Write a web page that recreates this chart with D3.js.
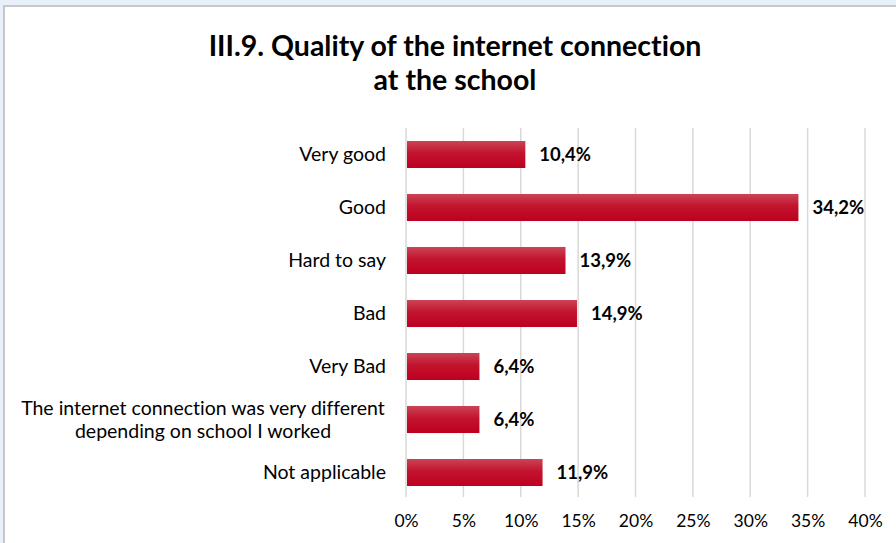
<!DOCTYPE html>
<html>
<head>
<meta charset="utf-8">
<script src="https://cdn.jsdelivr.net/npm/d3@7"></script>
<style>
  html, body { margin: 0; padding: 0; background: #e8f0f9; }
  svg { display: block; }
  text { font-variant-ligatures: none; font-feature-settings: "liga" 0; }
</style>
</head>
<body>
<svg id="chart" width="896" height="543"></svg>
<script>
// Survey answers and their shares (%)
const categories = [
  "Very good",
  "Good",
  "Hard to say",
  "Bad",
  "Very Bad",
  "The internet connection was very different|depending on school I worked",
  "Not applicable"
];
const values = [10.4, 34.2, 13.9, 14.9, 6.4, 6.4, 11.9];
const tickValues = [0, 5, 10, 15, 20, 25, 30, 35, 40];
const titleLines = ["III.9. Quality of the internet connection", "at the school"];

const svg = d3.select("#chart");
const W = 896, H = 543;
const font = "Lato, 'Open Sans', sans-serif";

// Chart panel with a thin grey frame
svg.append("rect").attr("x", 4).attr("y", 6).attr("width", W).attr("height", H)
  .attr("fill", "#ffffff").attr("stroke", "#c8c8c8").attr("stroke-width", 2);

// Vertical gradient for the bars
const defs = svg.append("defs");
const grad = defs.append("linearGradient").attr("id", "barGrad")
  .attr("x1", 0).attr("y1", 0).attr("x2", 0).attr("y2", 1);
grad.append("stop").attr("offset", "0%").attr("stop-color", "#cb4455");
grad.append("stop").attr("offset", "45%").attr("stop-color", "#c2142e");
grad.append("stop").attr("offset", "100%").attr("stop-color", "#be0020");

const margin = { left: 406, top: 128 };
const x = d3.scaleLinear().domain([0, 40]).range([margin.left, 865]);
const y = d3.scaleBand().domain(categories).range([margin.top, 499]).paddingInner(0.49).paddingOuter(0.245);

// Title
const title = svg.append("text").attr("text-anchor", "middle")
  .attr("font-family", font).attr("font-weight", "bold").attr("font-size", 28.5).attr("fill", "#000");
titleLines.forEach((t, i) => {
  title.append("tspan").attr("x", 455).attr("y", 56 + i * 34).text(t);
});

// Gridlines
svg.append("g").selectAll("line").data(tickValues).join("line")
  .attr("x1", d => x(d)).attr("x2", d => x(d))
  .attr("y1", margin.top).attr("y2", 497)
  .attr("stroke", "#d9d9d9").attr("stroke-width", 1.5);

// Bars
svg.append("g").selectAll("rect").data(values).join("rect")
  .attr("x", x(0) + 1)
  .attr("y", (d, i) => y(categories[i]))
  .attr("width", d => x(d) - x(0) - 1)
  .attr("height", y.bandwidth())
  .attr("fill", "url(#barGrad)");

// Value labels
svg.append("g").selectAll("text").data(values).join("text")
  .attr("x", d => x(d) + 14)
  .attr("y", (d, i) => y(categories[i]) + y.bandwidth() / 2)
  .attr("dy", "0.35em")
  .attr("font-family", font).attr("font-weight", "bold").attr("font-size", 18.5)
  .attr("fill", "#000")
  .text(d => d.toFixed(1).replace(".", ",") + "%");

// Category labels
const yAxis = d3.axisLeft(y).tickSize(0).tickPadding(0).tickFormat("");
const yg = svg.append("g").attr("transform", `translate(${margin.left},0)`).call(yAxis);
yg.select(".domain").remove();
yg.selectAll(".tick").each(function(d) {
  const parts = d.split("|");
  const multi = parts.length > 1;
  const t = d3.select(this).append("text")
    .attr("text-anchor", multi ? "middle" : "end")
    .attr("font-family", font).attr("font-size", 19.5).attr("fill", "#000");
  parts.forEach((p, i) => {
    t.append("tspan").attr("x", multi ? -203 : -20)
      .attr("dy", i === 0 ? ((0.35 - (parts.length - 1) * 0.6) + "em") : "1.2em")
      .text(p);
  });
});

// X axis tick labels
const xAxis = d3.axisBottom(x).tickValues(tickValues).tickSize(0).tickPadding(0)
  .tickFormat(d => d + "%");
const xg = svg.append("g").attr("transform", "translate(0,515)").call(xAxis);
xg.select(".domain").remove();
xg.selectAll("text").attr("font-family", font).attr("font-size", 17.5).attr("fill", "#000");
</script>
</body>
</html>
